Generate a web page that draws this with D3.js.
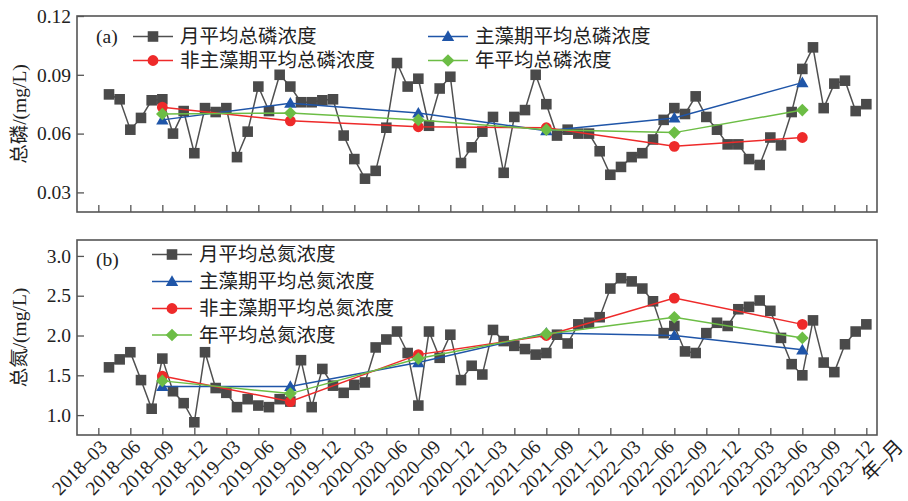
<!DOCTYPE html>
<html>
<head>
<meta charset="utf-8">
<script src="https://cdn.jsdelivr.net/npm/d3@7"></script>
<style>
  html, body { margin: 0; padding: 0; background: #fff; }
  svg { display: block; }
</style>
</head>
<body>
<svg id="chart" width="908" height="501"></svg>
<script>
// Month index 1..72 (index 0 = first tick, 2018-03)
const tpMonthly = [
  0.080, 0.0775, 0.062, 0.068, 0.077, 0.0775, 0.060, 0.0715, 0.050, 0.073, 0.071, 0.073,
  0.048, 0.061, 0.084, 0.0715, 0.090, 0.084, 0.076, 0.076, 0.077, 0.0775, 0.059, 0.047,
  0.037, 0.041, 0.063, 0.096, 0.084, 0.088, 0.064, 0.083, 0.089, 0.045, 0.053, 0.061,
  0.0685, 0.040, 0.0685, 0.072, 0.090, 0.075, 0.059, 0.062, 0.060, 0.060, 0.051, 0.039,
  0.043, 0.048, 0.050, 0.057, 0.067, 0.073, 0.070, 0.079, 0.0685, 0.062, 0.0545, 0.0545,
  0.047, 0.044, 0.058, 0.054, 0.071, 0.093, 0.104, 0.073, 0.0855, 0.087, 0.0715, 0.075
];
const tnMonthly = [
  1.60, 1.70, 1.79, 1.44, 1.08, 1.71, 1.30, 1.15, 0.91, 1.79, 1.34, 1.28,
  1.10, 1.20, 1.12, 1.10, 1.20, 1.17, 1.69, 1.10, 1.58, 1.37, 1.28, 1.38,
  1.41, 1.85, 1.95, 2.05, 1.78, 1.12, 2.05, 1.72, 2.01, 1.44, 1.62, 1.51,
  2.07, 1.93, 1.87, 1.83, 1.76, 1.78, 2.01, 1.90, 2.14, 2.16, 2.23, 2.59,
  2.72, 2.68, 2.59, 2.43, 2.03, 2.12, 1.80, 1.78, 2.03, 2.16, 2.12, 2.33,
  2.36, 2.44, 2.31, 1.97, 1.64, 1.50, 2.19, 1.66, 1.54, 1.89, 2.05, 2.14
];

// Yearly summary points sit at these month indices
const yearMonthIdx = [6, 18, 30, 42, 54, 66];
const tpMain    = [0.067, 0.0755, 0.0705, 0.0615, 0.068, 0.086];
const tpNonMain = [0.0735, 0.0665, 0.0635, 0.063, 0.0535, 0.058];
const tpYear    = [0.070, 0.0705, 0.067, 0.062, 0.0605, 0.072];
const tnMain    = [1.36, 1.36, 1.66, 2.03, 2.00, 1.82];
const tnNonMain = [1.49, 1.17, 1.76, 2.00, 2.47, 2.14];
const tnYear    = [1.43, 1.27, 1.71, 2.02, 2.23, 1.97];

const xTickLabels = [
  "2018–03", "2018–06", "2018–09", "2018–12",
  "2019–03", "2019–06", "2019–09", "2019–12",
  "2020–03", "2020–06", "2020–09", "2020–12",
  "2021–03", "2021–06", "2021–09", "2021–12",
  "2022–03", "2022–06", "2022–09", "2022–12",
  "2023–03", "2023–06", "2023–09", "2023–12"
];
const xAxisTitle = "年–月";
const tpTicks = [0.03, 0.06, 0.09, 0.12];
const tnTicks = [1.0, 1.5, 2.0, 2.5, 3.0];

const tpLegend = ["月平均总磷浓度", "主藻期平均总磷浓度", "非主藻期平均总磷浓度", "年平均总磷浓度"];
const tnLegend = ["月平均总氮浓度", "主藻期平均总氮浓度", "非主藻期平均总氮浓度", "年平均总氮浓度"];

const COL = {
  monthLine: "#505050", monthFill: "#4a4a4a",
  blue: "#1f55a8", red: "#ee2a2a", green: "#6cbd45",
  frame: "#555555", text: "#222222"
};
const SERIF = "'Liberation Serif', 'Noto Sans CJK SC', serif";

const svg = d3.select("#chart");
const left = 77, right = 877;

const x = d3.scaleLinear().domain([-2, 73]).range([left, right]);
const monthIdx = d3.range(1, tpMonthly.length + 1);

const sym = {
  square: d3.symbol().type(d3.symbolSquare).size(112),
  circle: d3.symbol().type(d3.symbolCircle).size(92),
  triangle: d3.symbol().type(d3.symbolTriangle).size(66),
  diamond: d3.symbol().type(d3.symbolSquare).size(80)
};

function drawMarker(g, kind, cx, cy, color) {
  const p = g.append("path")
    .attr("d", sym[kind]())
    .attr("fill", color);
  if (kind === "diamond") p.attr("transform", `translate(${cx},${cy}) rotate(45)`);
  else if (kind === "triangle") p.attr("transform", `translate(${cx},${cy + 1})`);
  else p.attr("transform", `translate(${cx},${cy})`);
}

function drawPanel(opt) {
  const y = d3.scaleLinear().domain(opt.domain).range([opt.bottom, opt.top]);
  const g = svg.append("g");

  // inward ticks
  g.append("g")
    .attr("transform", `translate(${left},0)`)
    .call(d3.axisLeft(y).tickValues(opt.ticks).tickSize(-7).tickPadding(6).tickFormat(d3.format(opt.fmt)))
    .call(a => a.select(".domain").remove())
    .call(a => a.selectAll("line").attr("stroke", COL.frame).attr("stroke-width", 1.3))
    .call(a => a.selectAll("text").attr("font-family", SERIF).attr("font-size", 19.5).attr("fill", COL.text));

  g.append("g")
    .attr("transform", `translate(0,${opt.bottom})`)
    .call(d3.axisBottom(x).tickValues(d3.range(0, 73, 3)).tickSize(-7).tickFormat(""))
    .call(a => a.select(".domain").remove())
    .call(a => a.selectAll("line").attr("stroke", COL.frame).attr("stroke-width", 1.3));

  // frame
  g.append("rect")
    .attr("x", left).attr("y", opt.top)
    .attr("width", right - left).attr("height", opt.bottom - opt.top)
    .attr("fill", "none").attr("stroke", COL.frame).attr("stroke-width", 1.6);

  // y title
  g.append("text")
    .attr("transform", `translate(19,${(opt.top + opt.bottom) / 2}) rotate(-90)`)
    .attr("text-anchor", "middle").attr("dominant-baseline", "central")
    .attr("font-family", SERIF).attr("font-size", 19.5).attr("fill", COL.text)
    .text(opt.yTitle);

  // panel tag
  g.append("text")
    .attr("x", 96).attr("y", opt.tagY)
    .attr("dominant-baseline", "central")
    .attr("font-family", SERIF).attr("font-size", 19.5).attr("fill", COL.text)
    .text(opt.tag);

  // monthly series
  const line = d3.line().x(d => x(d[0])).y(d => y(d[1]));
  const monthly = monthIdx.map((m, i) => [m, opt.monthly[i]]);
  g.append("path").datum(monthly)
    .attr("d", line).attr("fill", "none")
    .attr("stroke", COL.monthLine).attr("stroke-width", 1.5);
  const mg = g.append("g");
  monthly.forEach(d => drawMarker(mg, "square", x(d[0]), y(d[1]), COL.monthFill));

  // yearly summary series
  const series = [
    { vals: opt.main, color: COL.blue, kind: "triangle" },
    { vals: opt.nonMain, color: COL.red, kind: "circle" },
    { vals: opt.year, color: COL.green, kind: "diamond" }
  ];
  series.forEach(s => {
    const pts = yearMonthIdx.map((m, i) => [m, s.vals[i]]);
    g.append("path").datum(pts)
      .attr("d", line).attr("fill", "none")
      .attr("stroke", s.color).attr("stroke-width", 1.5);
  });
  series.forEach(s => {
    const sg = g.append("g");
    yearMonthIdx.forEach((m, i) => drawMarker(sg, s.kind, x(m), y(s.vals[i]), s.color));
  });

  // legend
  const legendStyle = [
    { color: COL.monthLine, fill: COL.monthFill, kind: "square" },
    { color: COL.blue, fill: COL.blue, kind: "triangle" },
    { color: COL.red, fill: COL.red, kind: "circle" },
    { color: COL.green, fill: COL.green, kind: "diamond" }
  ];
  opt.legendPos.forEach((p, i) => {
    const lg = g.append("g");
    lg.append("line")
      .attr("x1", p.x).attr("x2", p.x + 40)
      .attr("y1", p.y).attr("y2", p.y)
      .attr("stroke", legendStyle[i].color).attr("stroke-width", 1.5);
    drawMarker(lg, legendStyle[i].kind, p.x + 20, p.y, legendStyle[i].fill);
    lg.append("text")
      .attr("x", p.x + 47).attr("y", p.y)
      .attr("dominant-baseline", "central")
      .attr("font-family", SERIF).attr("font-size", 19.5).attr("fill", COL.text)
      .text(opt.legend[i]);
  });
  return y;
}

drawPanel({
  top: 16, bottom: 212, domain: [0.02, 0.12], ticks: tpTicks, fmt: ".2f",
  yTitle: "总磷/(mg/L)", tag: "(a)", tagY: 36,
  monthly: tpMonthly, main: tpMain, nonMain: tpNonMain, year: tpYear,
  legend: tpLegend,
  legendPos: [{ x: 133, y: 36.5 }, { x: 428, y: 36.5 }, { x: 133, y: 60.5 }, { x: 428, y: 60.5 }]
});

drawPanel({
  top: 240, bottom: 435, domain: [0.75, 3.2], ticks: tnTicks, fmt: ".1f",
  yTitle: "总氮/(mg/L)", tag: "(b)", tagY: 259,
  monthly: tnMonthly, main: tnMain, nonMain: tnNonMain, year: tnYear,
  legend: tnLegend,
  legendPos: [{ x: 152, y: 254.5 }, { x: 152, y: 281.5 }, { x: 152, y: 308.5 }, { x: 152, y: 335 }]
});

// rotated date labels under the lower panel
const xl = d3.scalePoint().domain(xTickLabels).range([x(0) + 10, x(72) + 9]);
const lab = svg.append("g");
xTickLabels.forEach(t => {
  lab.append("text")
    .attr("transform", `translate(${xl(t)},448) rotate(-45)`)
    .attr("text-anchor", "end")
    .attr("font-family", SERIF).attr("font-size", 19.5).attr("fill", COL.text)
    .text(t);
});
lab.append("text")
  .attr("transform", `translate(${x(72) + 38},448) rotate(-45)`)
  .attr("text-anchor", "end")
  .attr("font-family", SERIF).attr("font-size", 19.5).attr("fill", COL.text)
  .text(xAxisTitle);
</script>
</body>
</html>
